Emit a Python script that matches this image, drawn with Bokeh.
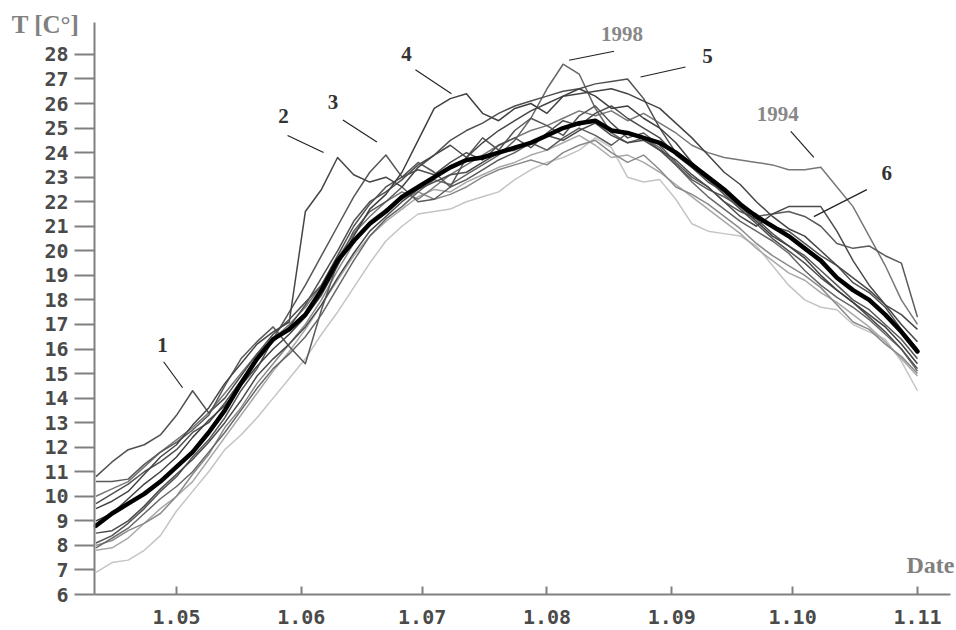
from bokeh.plotting import figure
from bokeh.models import FixedTicker, Label, Range1d
from bokeh.embed import file_html
from bokeh.resources import INLINE

# ---------------- data (day of year, temperature in deg C) ----------------
DAYS = [101, 105, 109, 113, 117, 121, 125, 129, 133, 137, 141, 145, 149,
        153, 157, 161, 165, 169, 173, 177, 181, 185, 189, 193, 197, 201,
        205, 209, 213, 217, 221, 225, 229, 233, 237, 241, 245, 249, 253,
        257, 261, 265, 269, 273, 277, 281, 285, 289, 293, 297, 301, 305]

TICK_DAYS = [121, 152, 182, 213, 244, 274, 305]
TICK_LABELS = ["1.05", "1.06", "1.07", "1.08", "1.09", "1.10", "1.11"]
Y_TICKS = [6, 7, 8, 9, 10, 11, 12, 13, 14, 15, 16, 17, 18, 19, 20, 21, 22,
           23, 24, 25, 26, 27, 28]

MEAN = [8.8, 9.3, 9.7, 10.1, 10.6, 11.2, 11.8, 12.6, 13.5, 14.6, 15.6, 16.4, 16.8,
        17.4, 18.4, 19.6, 20.4, 21.1, 21.6, 22.2, 22.6, 23.0, 23.4, 23.7, 23.8, 24.0,
        24.2, 24.4, 24.7, 25.0, 25.2, 25.3, 24.9, 24.8, 24.6, 24.4, 24.0, 23.5, 23.0,
        22.5, 21.9, 21.4, 21.0, 20.6, 20.1, 19.6, 18.9, 18.4, 18.0, 17.4, 16.7, 15.9]

Y_1 = [10.8, 11.4, 11.9, 12.1, 12.5, 13.3, 14.3, 13.4, 14.0, 14.9, 15.8, 16.6, 17.2,
       17.9, 18.6, 19.8, 21.0, 21.9, 22.6, 23.0, 23.3, 23.1, 23.6, 24.0, 23.7, 24.3,
       24.6, 24.2, 24.8, 25.3, 25.1, 25.6, 25.9, 25.4, 25.0, 24.6, 23.9, 23.4, 22.8,
       22.4, 21.8, 21.5, 21.0, 20.8, 20.3, 19.8, 19.4, 18.7, 18.3, 17.7, 16.8, 16.0]

Y_2 = [9.5, 9.8, 10.2, 10.9, 11.6, 12.1, 12.9, 13.6, 14.6, 15.4, 16.2, 16.7, 17.1,
       21.6, 22.5, 23.8, 23.1, 22.8, 23.0, 22.6, 23.4, 23.9, 24.3, 23.8, 24.4, 24.9,
       25.3, 25.7, 26.0, 26.3, 26.4, 26.5, 26.6, 26.4, 26.1, 25.8, 25.2, 24.6, 23.9,
       23.2, 22.7, 22.0, 21.4, 20.9, 20.6, 20.0, 19.4, 18.9, 18.4, 17.8, 17.0, 16.3]

Y_3 = [8.1, 8.4, 8.9, 9.5, 10.2, 10.8, 11.6, 12.3, 13.2, 14.3, 15.2, 16.4, 17.5,
       18.6, 19.8, 21.0, 22.2, 23.2, 23.9, 23.0, 23.6, 23.2, 22.6, 23.8, 24.6, 24.1,
       24.9, 25.4, 25.1, 24.7, 25.5, 25.9, 25.2, 24.6, 24.8, 24.3, 23.6, 23.0, 22.6,
       22.0, 21.6, 21.3, 20.7, 20.2, 19.8, 19.2, 18.6, 18.0, 17.6, 17.0, 16.4, 15.6]

Y_4 = [9.0, 9.3, 9.9, 10.5, 11.0, 11.6, 12.4, 13.1, 13.7, 14.5, 15.3, 16.0, 16.6,
       17.3, 18.2, 19.4, 20.6, 21.7, 22.3, 23.2, 24.5, 25.8, 26.2, 26.4, 25.6, 25.3,
       25.8, 26.0, 25.6, 26.3, 26.6, 26.3, 25.8, 25.9, 25.4, 25.0, 24.4, 23.6, 23.0,
       22.4, 21.8, 21.2, 20.6, 20.2, 19.7, 19.0, 18.4, 17.9, 17.4, 16.9, 16.2, 15.4]

Y_1998 = [7.9, 8.3, 8.7, 9.3, 9.9, 10.4, 11.0, 11.8, 12.6, 13.5, 14.4, 15.2, 15.8,
          16.5, 17.4, 18.5, 19.6, 20.6, 21.3, 21.8, 22.4, 22.9, 22.7, 23.1, 23.5, 23.9,
          24.5, 25.4, 26.6, 27.6, 27.2, 25.8, 24.8, 24.4, 24.6, 24.2, 23.5, 22.8, 22.2,
          21.7, 21.2, 20.8, 20.4, 19.9, 19.2, 18.6, 18.1, 17.7, 17.2, 16.6, 16.0, 15.1]

Y_5 = [9.7, 10.1, 10.5, 11.0, 11.4, 11.9, 12.6, 13.0, 13.8, 14.7, 15.6, 16.3, 16.9,
       17.8, 18.9, 20.0, 21.2, 22.0, 22.4, 22.9, 23.5, 23.9, 24.5, 24.9, 25.2, 25.6,
       25.9, 26.1, 26.3, 26.5, 26.6, 26.8, 26.9, 27.0, 26.2, 25.0, 24.0, 23.4, 22.9,
       22.3, 21.7, 21.1, 20.5, 20.0, 19.5, 18.9, 18.4, 17.9, 17.3, 16.7, 16.0, 15.2]

Y_1994 = [10.0, 10.3, 10.6, 11.2, 11.8, 12.3, 12.8, 13.4, 14.2, 15.0, 15.8, 16.4, 17.0,
          17.7, 18.6, 19.7, 20.7, 21.4, 22.0, 22.4, 22.1, 22.6, 23.1, 23.5, 23.9, 24.3,
          24.6, 24.9, 25.1, 25.4, 25.7, 25.5, 25.7, 25.3, 25.6, 25.2, 24.8, 24.3, 24.0,
          23.8, 23.7, 23.6, 23.5, 23.3, 23.3, 23.4, 22.6, 21.8, 20.6, 19.4, 18.0, 17.0]

Y_6 = [8.5, 8.6, 9.0, 9.6, 10.3, 10.9, 11.5, 12.2, 13.0, 13.9, 14.9, 15.6, 16.2,
       16.9, 17.8, 18.9, 19.9, 20.8, 21.4, 22.0, 22.5, 22.8, 23.1, 23.2, 23.6, 24.0,
       24.1, 24.4, 24.7, 24.5, 24.9, 25.2, 24.7, 24.4, 24.5, 24.1, 23.7, 23.1, 22.6,
       22.0, 21.4, 21.0, 21.5, 21.8, 21.8, 21.8, 20.8, 19.6, 18.6, 17.8, 17.4, 16.8]

Y_A = [6.9, 7.3, 7.4, 7.8, 8.4, 9.4, 10.2, 11.0, 11.9, 12.5, 13.2, 14.0, 14.8,
       15.6, 16.6, 17.5, 18.5, 19.5, 20.4, 21.0, 21.5, 21.6, 21.7, 22.0, 22.2, 22.4,
       22.9, 23.3, 23.6, 23.8, 24.1, 24.6, 24.2, 23.0, 22.8, 22.9, 22.1, 21.1, 20.8,
       20.7, 20.6, 20.2, 19.4, 18.6, 18.0, 17.7, 17.6, 17.0, 16.7, 16.4, 15.5, 14.3]

Y_B = [7.8, 7.9, 8.3, 8.9, 9.5, 10.0, 10.6, 11.5, 12.4, 13.3, 14.2, 15.1, 15.9,
       16.8, 17.8, 18.8, 19.8, 20.6, 21.2, 21.7, 22.2, 22.5, 22.4, 22.8, 23.1, 23.4,
       23.6, 23.9, 24.1, 24.4, 24.7, 24.3, 23.8, 23.9, 23.6, 23.2, 22.7, 22.2, 21.7,
       21.2, 20.7, 20.1, 19.6, 19.1, 18.8, 18.3, 17.9, 17.4, 16.9, 16.3, 15.6, 14.9]

Y_C = [10.6, 10.6, 10.7, 11.3, 11.8, 12.2, 12.7, 13.3, 14.5, 15.6, 16.3, 16.9, 16.1,
       15.4, 17.6, 19.5, 20.8, 21.6, 22.0, 22.6, 22.0, 22.1, 22.6, 22.9, 23.3, 23.7,
       24.0, 24.4, 24.1, 24.6, 25.0, 24.7, 24.3, 24.8, 24.6, 24.1, 23.5, 22.9, 22.5,
       22.2, 21.8, 21.4, 21.5, 21.6, 21.4, 21.0, 20.3, 20.1, 20.2, 19.8, 19.5, 17.3]

Y_D = [8.0, 8.2, 8.6, 8.9, 9.3, 10.0, 10.9, 11.7, 12.8, 13.6, 14.6, 15.4, 16.2,
       17.0, 18.0, 19.2, 20.3, 21.2, 21.7, 22.1, 22.4, 22.1, 22.3, 22.6, 23.0, 23.3,
       23.5, 23.7, 23.5, 24.0, 24.3, 24.5, 24.0, 23.6, 23.9, 23.3, 22.6, 22.3, 21.9,
       21.4, 20.9, 20.3, 19.8, 19.4, 19.0, 18.5, 17.8, 17.1, 16.8, 16.2, 15.7, 15.0]

# ---------------- styling ----------------
GREY_SERIES = [
    (Y_A, "#c4c4c4"), (Y_B, "#a8a8a8"), (Y_D, "#8a8a8a"), (Y_1994, "#777777"),
    (Y_1998, "#666666"), (Y_C, "#5a5a5a"), (Y_3, "#555555"), (Y_5, "#505050"),
    (Y_6, "#4a4a4a"), (Y_1, "#505050"), (Y_2, "#454545"), (Y_4, "#404040"),
]

# axis extents (data) and pixel geometry of the plotting area
X0, X1 = 100.64, 313.2
Y0, Y1 = 6.0, 29.3
PXD = 4.027    # pixels per day
PYV = 24.55    # pixels per degree
W, H = 956, 630
LEFT, TOP, BOTTOM = 94, 22, 594

# the frame fills the whole canvas; axes are pinned at the data origin
p = figure(width=W, height=H,
           x_range=Range1d(X0 - LEFT / PXD, X0 + (W - LEFT) / PXD),
           y_range=Range1d(Y0 - (H - BOTTOM) / PYV, Y1 + TOP / PYV),
           output_backend="svg", toolbar_location=None,
           min_border=0, min_border_left=0, min_border_right=0,
           min_border_top=0, min_border_bottom=0)
p.outline_line_color = None
p.grid.visible = False
p.background_fill_color = "white"
p.border_fill_color = "white"

for ax in (p.xaxis[0], p.yaxis[0]):
    ax.axis_line_color = "#808080"
    ax.axis_line_width = 2
    ax.major_tick_line_color = "#808080"
    ax.major_tick_line_width = 2
    ax.minor_tick_line_color = None
    ax.major_label_text_font = "DejaVu Sans Mono"
    ax.major_label_text_font_style = "bold"
    ax.major_label_text_font_size = "20px"
    ax.major_label_text_color = "#4a4a4a"

p.xaxis.fixed_location = Y0
p.xaxis.bounds = (X0, X1)
p.xaxis.ticker = FixedTicker(ticks=TICK_DAYS)
p.xaxis.major_label_overrides = {d: s for d, s in zip(TICK_DAYS, TICK_LABELS)}
p.xaxis.major_tick_in = 8
p.xaxis.major_tick_out = 0
p.xaxis.major_label_standoff = 15

p.yaxis.fixed_location = X0
p.yaxis.bounds = (Y0, Y1)
p.yaxis.ticker = FixedTicker(ticks=Y_TICKS)
p.yaxis.major_tick_in = 0
p.yaxis.major_tick_out = 20
p.yaxis.major_label_standoff = 6

for ys, col in GREY_SERIES:
    p.line(DAYS, ys, line_color=col, line_width=1.5, line_join="round")

p.line(DAYS, MEAN, line_color="black", line_width=4.5, line_join="round", line_cap="round")

# ---------------- annotations (anchored on the series) ----------------
# (text, series, anchor index, leader start px, leader end px, text px, colour)
ANNOT = [
    ("1", Y_1, 6, (-29, -29), (-10, -3), (-30, -46), "#333333"),
    ("2", Y_2, 15, (-50, -22), (-14, -5), (-54, -42), "#333333"),
    ("3", Y_3, 18, (-43, -35), (-9, -13), (-53, -53), "#333333"),
    ("4", Y_4, 23, (-51, -24), (-15, 0), (-60, -40), "#333333"),
    ("1998", Y_1998, 29, (51, -13), (6, -4), (59, -30), "#888888"),
    ("5", Y_5, 33, (58, -12), (13, -2), (80, -23), "#333333"),
    ("1994", Y_1994, 45, (-30, -36), (-7, -10), (-43, -53), "#888888"),
    ("6", Y_6, 45, (46, -17), (-7, 10), (66, -34), "#333333"),
]

sx0, sy0, sx1, sy1 = [], [], [], []
for text, ys, i, st, en, tp, col in ANNOT:
    ax_, ay_ = DAYS[i], ys[i]
    sx0.append(ax_ + st[0] / PXD)
    sy0.append(ay_ - st[1] / PYV)
    sx1.append(ax_ + en[0] / PXD)
    sy1.append(ay_ - en[1] / PYV)
    p.add_layout(Label(x=ax_ + tp[0] / PXD, y=ay_ - tp[1] / PYV, text=text,
                       text_font="Liberation Serif", text_font_style="bold",
                       text_font_size="21px", text_color=col,
                       text_align="center", text_baseline="middle"))
p.segment(x0=sx0, y0=sy0, x1=sx1, y1=sy1, line_color="#222222", line_width=1.2)

# axis titles
p.add_layout(Label(x=X0 - 49 / PXD, y=Y1 - 2 / PYV, text="T [C\u00b0]",
                   text_font="Liberation Serif", text_font_style="bold",
                   text_font_size="25px", text_color="#808080",
                   text_align="center", text_baseline="middle"))
p.add_layout(Label(x=X1 + 4 / PXD, y=Y0 + 30 / PYV, text="Date",
                   text_font="Liberation Serif", text_font_style="bold",
                   text_font_size="24px", text_color="#808080",
                   text_align="right", text_baseline="middle"))

open("out.html", "w").write(file_html(p, INLINE))
